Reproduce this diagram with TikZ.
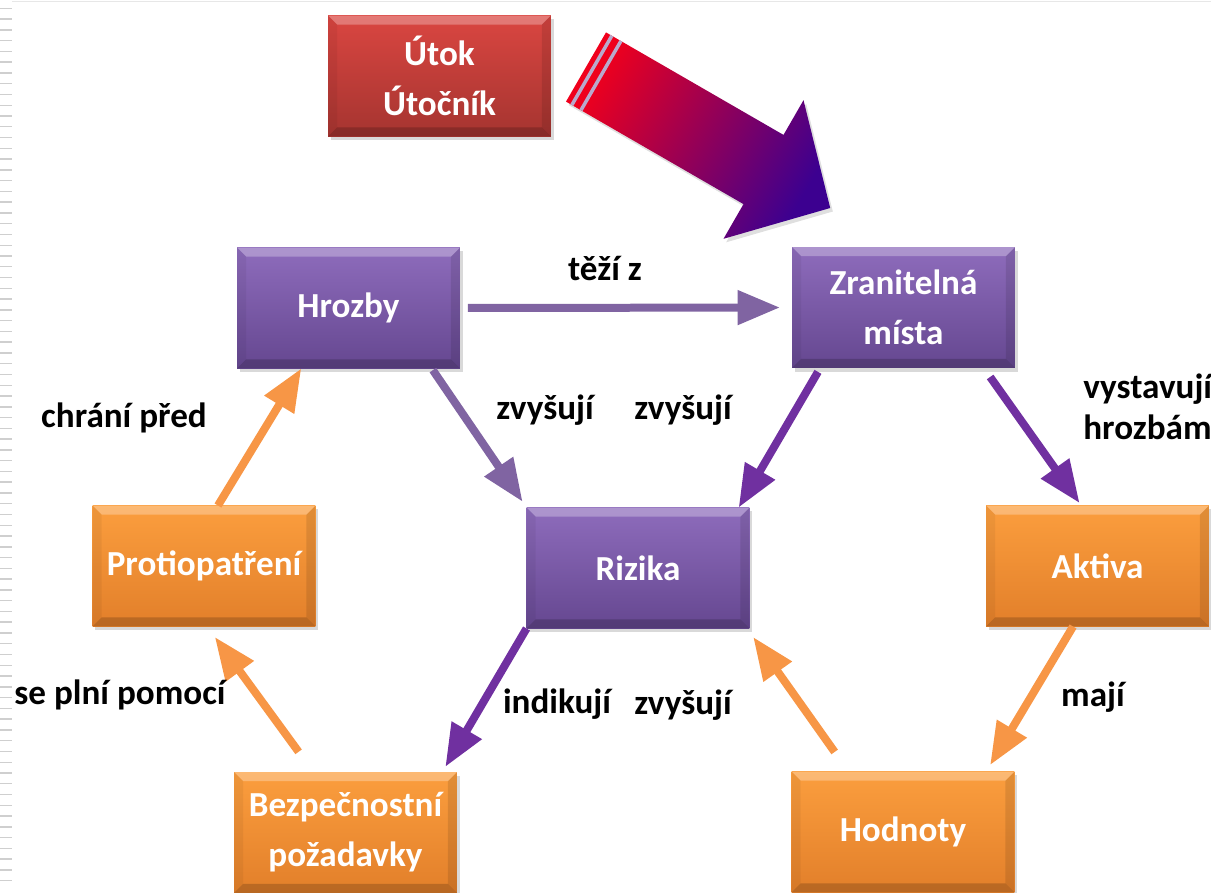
\documentclass[tikz,border=0pt]{standalone}
\usepackage{fontspec}
\setmainfont{Carlito}
\usetikzlibrary{arrows.meta,shadows}

\definecolor{boxpurpletop}{HTML}{8E6CBC}
\definecolor{boxpurplebot}{HTML}{654790}
\definecolor{boxorangetop}{HTML}{FB9E3E}
\definecolor{boxorangebot}{HTML}{E27F2A}
\definecolor{boxredtop}{HTML}{DA4641}
\definecolor{boxredbot}{HTML}{A53430}
\definecolor{linkpurple}{HTML}{8064A2}
\definecolor{linkviolet}{HTML}{7030A0}
\definecolor{linkorange}{HTML}{F79646}
\definecolor{attackred}{HTML}{F0001C}
\definecolor{attackblue}{HTML}{3C0090}
\definecolor{stripecol}{HTML}{B9A9CC}
\definecolor{edgegray}{HTML}{CFCFCF}

\newcommand{\labelfont}{\bfseries\fontsize{20}{24}\selectfont}
\newcommand{\boxfont}{\bfseries\fontsize{20}{28.5}\selectfont}

\begin{document}
\begin{tikzpicture}[x=0.02cm, y=-0.02cm,
  bevel/.style={path picture={
    \coordinate (nw) at (path picture bounding box.north west);
    \coordinate (ne) at (path picture bounding box.north east);
    \coordinate (sw) at (path picture bounding box.south west);
    \coordinate (se) at (path picture bounding box.south east);
    \fill[white,opacity=0.28] (nw) -- (ne) -- ([shift={(-9,9)}]ne) -- ([shift={(9,9)}]nw) -- cycle;
    \fill[black,opacity=0.18] (sw) -- (se) -- ([shift={(-9,-9)}]se) -- ([shift={(9,-9)}]sw) -- cycle;
    \fill[black,opacity=0.10] (ne) -- (se) -- ([shift={(-9,-9)}]se) -- ([shift={(-9,9)}]ne) -- cycle;
    \fill[black,opacity=0.05] (nw) -- (sw) -- ([shift={(9,-9)}]sw) -- ([shift={(9,9)}]nw) -- cycle;
  }},
  box/.style={minimum width=4.46cm, minimum height=2.42cm, inner sep=0pt, outer sep=0pt,
    text=white, align=center, font=\boxfont, bevel,
    drop shadow={shadow xshift=1.5pt, shadow yshift=-2pt, opacity=0.3}},
  purplebox/.style={box, top color=boxpurpletop, bottom color=boxpurplebot},
  orangebox/.style={box, top color=boxorangetop, bottom color=boxorangebot},
  redbox/.style={box, top color=boxredtop, bottom color=boxredbot},
  link/.style={line width=0.16cm, -{Triangle[length=0.85cm,width=0.66cm]}},
  lab/.style={font=\labelfont, inner sep=0pt}]

\useasboundingbox (0,0) rectangle (1211,893);

% slide edge
\foreach \i in {0,...,81}
  \draw[edgegray, line width=0.8pt] (0,{8.3+10.77*\i}) -- (12,{8.3+10.77*\i});
\draw[edgegray!50, line width=0.5pt] (12,1) -- (1211,1);

% boxes
\node[redbox] (utok) at (439.5,76) {Útok\\Útočník};
\node[purplebox] (hrozby) at (348.5,308) {Hrozby};
\node[purplebox] (zranitelna) at (903.5,307.5) {Zranitelná\\místa};
\node[purplebox] (rizika) at (638,568) {Rizika};
\node[orangebox] (aktiva) at (1097.5,566) {Aktiva};
\node[orangebox] (protiopatreni) at (204,566) {Protiopatření};
\node[orangebox] (pozadavky) at (345.5,832.5) {Bezpečnostní\\požadavky};
\node[orangebox] (hodnoty) at (903,832) {Hodnoty};

% big striped arrow
\path[left color=attackred, right color=attackblue, shading angle=60,
      drop shadow={shadow xshift=1.5pt, shadow yshift=-2pt, opacity=0.25}]
  (606,32.4) -- (783.5,134.9) -- (803.5,100.2) -- (830.2,208)
  -- (723.5,238.8) -- (743.5,204.1) -- (566,101.6) -- cycle;
\draw[stripecol, line width=0.07cm] (611.85,35.73) -- (571.85,105.02);
\draw[stripecol, line width=0.07cm] (620.94,40.98) -- (580.94,110.27);

% links
\draw[link, linkpurple, shorten <=0.16cm, shorten >=0.24cm] (hrozby.east) -- (zranitelna.west);
\draw[link, linkpurple, shorten <=0.04cm, shorten >=0.14cm] (hrozby.-36.3) -- (rizika.north west);
\draw[link, linkviolet, shorten <=0.09cm] (zranitelna.216.7) -- (rizika.31.3);
\draw[link, linkviolet, shorten <=0.22cm, shorten >=0.06cm] (zranitelna.-37.8) -- (aktiva.105.1);
\draw[link, linkorange] (protiopatreni.77.4) -- (hrozby.-128.9);
\draw[link, linkorange, shorten <=0.5cm, shorten >=0.26cm] (pozadavky.118.5) -- (protiopatreni.-87.8);
\draw[link, linkviolet, shorten >=0.12cm] (rizika.south west) -- (pozadavky.32.9);
\draw[link, linkorange, shorten <=0.48cm, shorten >=0.21cm] (hodnoty.132.2) -- (rizika.-29.8);
\draw[link, linkorange, shorten >=0.15cm] (aktiva.-112.9) -- (hodnoty.36.75);

% labels
\node[lab] (tezi) at (605,268) {těží z};
\node[lab] (zvysuji1) at (545,410) {zvyšují};
\node[lab] (zvysuji2) at (683,410) {zvyšují};
\node[lab] (chrani) at (124,418) {chrání před};
\node[lab, anchor=west, align=left, font=\bfseries\fontsize{20}{23.3}\selectfont] (vystavuji) at (1083,407) {vystavují\\hrozbám};
\node[lab] (plni) at (120,695) {se plní pomocí};
\node[lab] (indikuji) at (557,704) {indikují};
\node[lab] (zvysuji3) at (683,705) {zvyšují};
\node[lab] (maji) at (1093,697) {mají};

\end{tikzpicture}
\end{document}
